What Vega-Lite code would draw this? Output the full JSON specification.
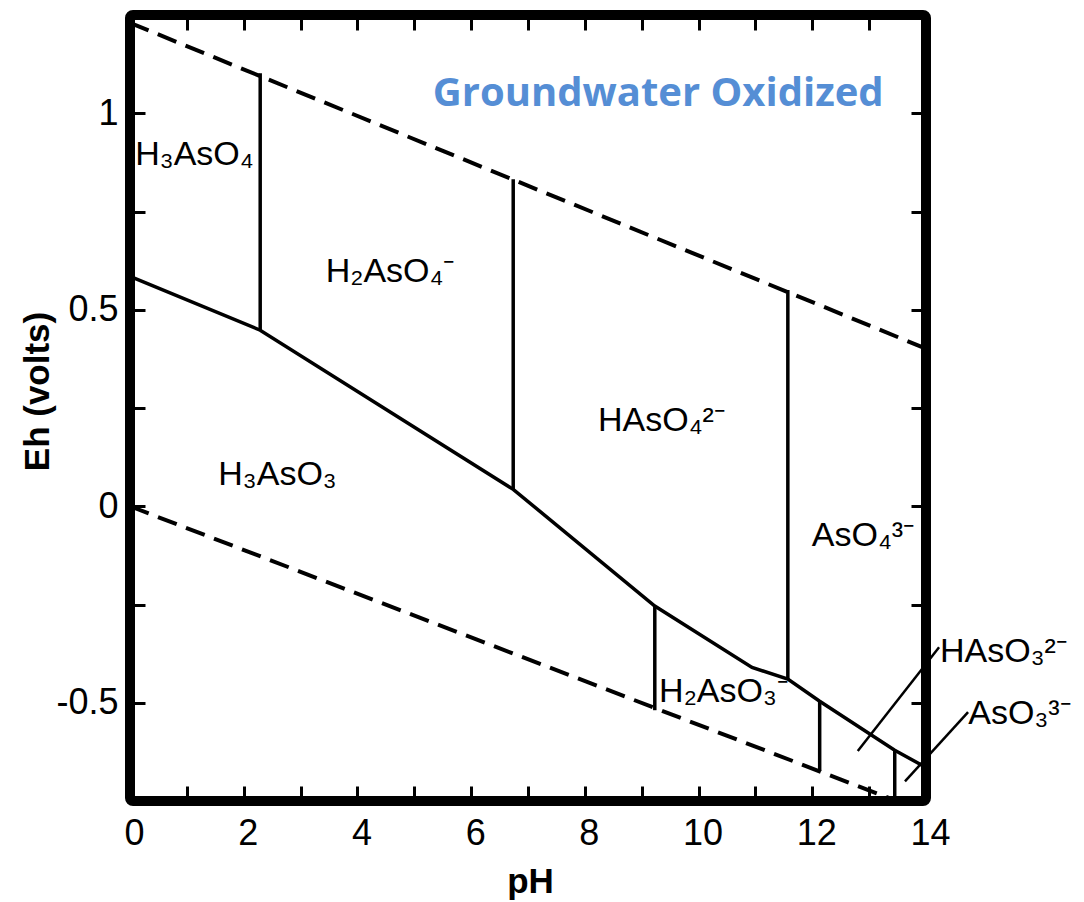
{
  "$schema": "https://vega.github.io/schema/vega-lite/v6.json",
  "width": 796,
  "height": 786,
  "autosize": {"type": "none"},
  "padding": {"left": 130, "top": 15, "right": 158, "bottom": 101},
  "background": "white",
  "config": {
    "view": {"stroke": "black", "strokeWidth": 10, "cornerRadius": 3},
    "axis": {
      "grid": false,
      "domain": false,
      "tickColor": "black",
      "tickWidth": 3,
      "tickSize": -15,
      "labelFont": "Liberation Sans",
      "labelFontSize": 36,
      "labelColor": "black",
      "titleFont": "Liberation Sans",
      "titleFontSize": 35,
      "titleFontWeight": "bold",
      "titleColor": "black"
    }
  },
  "datasets": {
    "dashed": [
      {"line": "O2/H2O", "pH": 0, "Eh": 1.23},
      {"line": "O2/H2O", "pH": 14, "Eh": 0.401},
      {"line": "H2O/H2", "pH": 0, "Eh": 0},
      {"line": "H2O/H2", "pH": 13.45, "Eh": -0.748}
    ],
    "boundary": [
      {"pH": 0, "Eh": 0.585},
      {"pH": 2.29, "Eh": 0.448},
      {"pH": 6.74, "Eh": 0.043},
      {"pH": 9.23, "Eh": -0.254},
      {"pH": 10.94, "Eh": -0.41},
      {"pH": 11.57, "Eh": -0.44},
      {"pH": 12.13, "Eh": -0.496},
      {"pH": 13.45, "Eh": -0.621},
      {"pH": 13.93, "Eh": -0.659}
    ],
    "verticals": [
      {"pH": 2.29, "Eh": 0.448, "Eh2": 1.102},
      {"pH": 6.74, "Eh": 0.043, "Eh2": 0.832},
      {"pH": 11.57, "Eh": -0.44, "Eh2": 0.55},
      {"pH": 9.23, "Eh": -0.254, "Eh2": -0.519},
      {"pH": 12.13, "Eh": -0.496, "Eh2": -0.674},
      {"pH": 13.45, "Eh": -0.621, "Eh2": -0.75}
    ],
    "leaders": [
      {"pH": 14.23, "Eh": -0.359, "pH2": 12.8, "Eh2": -0.623},
      {"pH": 14.74, "Eh": -0.524, "pH2": 13.63, "Eh2": -0.7}
    ],
    "labels": [
      {"label": "H₃AsO₄", "pH": 1.134, "Eh": 0.868},
      {"label": "H₂AsO₄⁻", "pH": 4.573, "Eh": 0.57},
      {"label": "HAsO₄²⁻", "pH": 9.347, "Eh": 0.191},
      {"label": "H₃AsO₃", "pH": 2.594, "Eh": 0.053},
      {"label": "AsO₄³⁻", "pH": 12.891, "Eh": -0.102},
      {"label": "H₂AsO₃⁻", "pH": 10.438, "Eh": -0.499},
      {"label": "HAsO₃²⁻", "pH": 15.362, "Eh": -0.397},
      {"label": "AsO₃³⁻", "pH": 15.644, "Eh": -0.555}
    ],
    "title": [
      {"label": "Groundwater Oxidized", "pH": 9.29, "Eh": 1.018}
    ]
  },
  "resolve": {"axis": {"x": "independent", "y": "independent"}},
  "layer": [
    {
      "data": {"name": "dashed"},
      "mark": {"type": "line", "strokeDash": [20, 10], "strokeWidth": 4, "color": "black"},
      "encoding": {
        "x": {
          "field": "pH", "type": "quantitative",
          "scale": {"domain": [0, 14], "nice": false, "zero": false},
          "axis": {
            "orient": "bottom",
            "values": [0, 1, 2, 3, 4, 5, 6, 7, 8, 9, 10, 11, 12, 13, 14],
            "labelExpr": "datum.value % 2 === 0 ? '' + datum.value : ''",
            "labelPadding": 30,
            "labelFlush": false,
            "labelOverlap": false,
            "labelOffset": 4,
            "title": "pH",
            "titleX": 400,
            "titleY": 91,
            "titleAlign": "center",
            "titleBaseline": "alphabetic"
          }
        },
        "y": {
          "field": "Eh", "type": "quantitative",
          "scale": {"domain": [-0.75, 1.25], "nice": false, "zero": false},
          "axis": {
            "orient": "left",
            "values": [-0.5, -0.25, 0, 0.25, 0.5, 0.75, 1],
            "labelExpr": "datum.value % 0.5 === 0 ? '' + datum.value : ''",
            "labelPadding": 27,
            "labelFlush": false,
            "labelOverlap": false,
            "title": "Eh (volts)",
            "titleX": -82,
            "titleY": 376,
            "titleAlign": "center",
            "titleBaseline": "alphabetic",
            "titleAngle": 270
          }
        },
        "detail": {"field": "line", "type": "nominal"}
      }
    },
    {
      "data": {"name": "boundary"},
      "mark": {"type": "line", "strokeWidth": 3.5, "color": "black"},
      "encoding": {
        "x": {
          "field": "pH", "type": "quantitative",
          "scale": {"domain": [0, 14], "nice": false, "zero": false},
          "axis": {
            "orient": "top",
            "values": [1, 2, 3, 4, 5, 6, 7, 8, 9, 10, 11, 12, 13],
            "labels": false,
            "title": null
          }
        },
        "y": {
          "field": "Eh", "type": "quantitative",
          "scale": {"domain": [-0.75, 1.25], "nice": false, "zero": false},
          "axis": {
            "orient": "right",
            "values": [-0.5, -0.25, 0, 0.25, 0.5, 0.75, 1],
            "labels": false,
            "title": null
          }
        }
      }
    },
    {
      "data": {"name": "verticals"},
      "mark": {"type": "rule", "strokeWidth": 3.5, "color": "black"},
      "encoding": {
        "x": {"field": "pH", "type": "quantitative", "axis": null},
        "y": {"field": "Eh", "type": "quantitative", "axis": null},
        "y2": {"field": "Eh2"}
      }
    },
    {
      "data": {"name": "leaders"},
      "mark": {"type": "rule", "strokeWidth": 2.5, "color": "black"},
      "encoding": {
        "x": {"field": "pH", "type": "quantitative", "axis": null},
        "y": {"field": "Eh", "type": "quantitative", "axis": null},
        "x2": {"field": "pH2"},
        "y2": {"field": "Eh2"}
      }
    },
    {
      "data": {"name": "labels"},
      "mark": {"type": "text", "font": "Liberation Sans", "fontSize": 34, "color": "black", "align": "center", "baseline": "alphabetic"},
      "encoding": {
        "x": {"field": "pH", "type": "quantitative", "axis": null},
        "y": {"field": "Eh", "type": "quantitative", "axis": null},
        "text": {"field": "label"}
      }
    },
    {
      "data": {"name": "title"},
      "mark": {"type": "text", "font": "Open Sans", "fontSize": 40, "fontWeight": "bold", "color": "#558ED5", "align": "center", "baseline": "alphabetic"},
      "encoding": {
        "x": {"field": "pH", "type": "quantitative", "axis": null},
        "y": {"field": "Eh", "type": "quantitative", "axis": null},
        "text": {"field": "label"}
      }
    }
  ]
}
